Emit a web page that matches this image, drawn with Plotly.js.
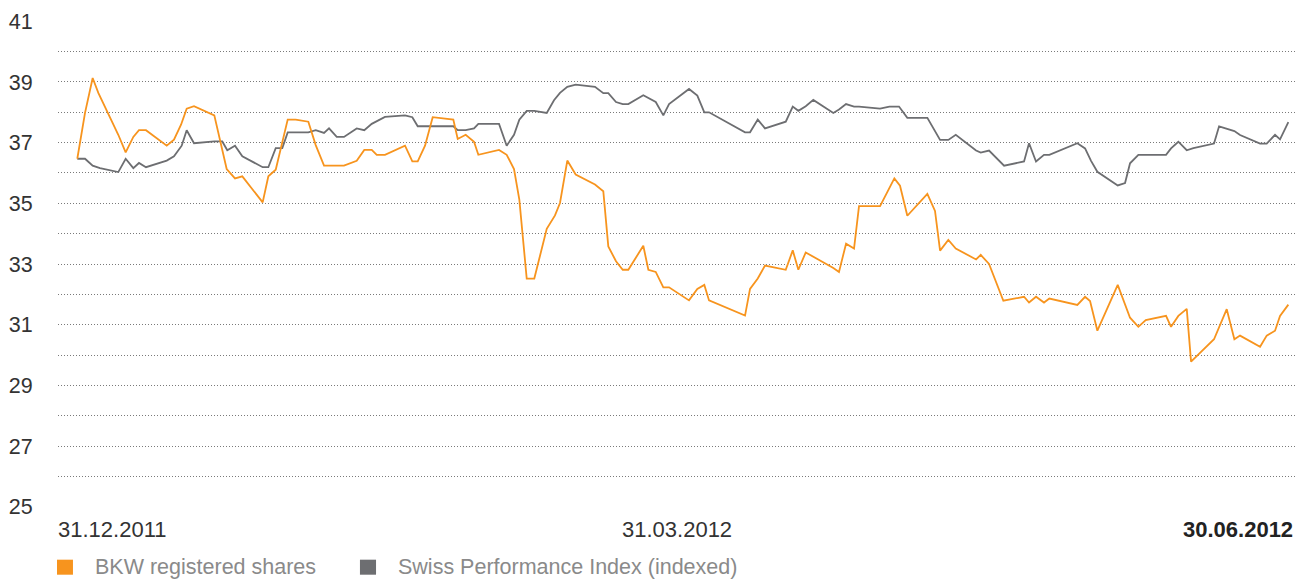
<!DOCTYPE html>
<html>
<head>
<meta charset="utf-8">
<script src="https://cdn.plot.ly/plotly-3.0.1.min.js"></script>
<style>html,body{margin:0;padding:0;background:#fff;}#chart{width:1297px;height:580px;}</style>
</head>
<body>
<div id="chart"></div>
<script>
// Days since 31.12.2011
const bkwDays = [0,1.16,2.31,3.16,6.16,7.27,8.42,9.27,10.32,13.44,14.53,15.59,16.44,17.54,20.59,22.45,23.70,24.80,27.86,28.71,29.82,31.62,32.82,34.72,35.83,37.08,40.08,41.99,43.13,44.25,45.00,46.24,49.25,50.35,51.16,52.26,53.41,56.51,57.17,58.37,59.62,60.27,63.38,64.53,65.63,66.43,67.54,68.68,70.55,71.79,72.54,73.64,74.90,77.80,79.05,79.80,80.96,81.97,82.81,85.06,85.82,86.93,88.07,88.93,91.93,93.18,94.23,94.94,100.35,101.10,102.26,103.35,106.47,107.52,108.36,109.47,113.62,114.47,115.53,116.73,117.48,120.64,122.79,123.64,124.74,127.75,128.90,129.66,130.90,132.02,135.07,135.77,137.02,139.17,142.28,143.03,144.08,145.28,146.08,150.29,151.45,152.20,153.30,156.36,158.21,159.46,160.57,163.62,164.37,165.47,166.73,167.38,170.83,172.74,173.89,174.74,177.75,178.75,180.00,180.75,182.0];
const bkwValues = [36.47,37.98,39.13,38.64,37.26,36.68,37.19,37.41,37.41,36.90,37.10,37.59,38.12,38.20,37.90,36.13,35.82,35.89,35.03,35.89,36.11,37.76,37.76,37.69,36.92,36.24,36.24,36.40,36.76,36.76,36.60,36.60,36.90,36.38,36.38,36.90,37.84,37.76,37.12,37.26,37.03,36.60,36.76,36.60,36.13,35.12,32.52,32.52,34.16,34.60,35.01,36.41,35.95,35.62,35.40,33.58,33.09,32.81,32.81,33.60,32.81,32.74,32.23,32.23,31.80,32.18,32.31,31.80,31.30,32.18,32.52,32.95,32.81,33.45,32.81,33.38,32.87,32.74,33.67,33.51,34.91,34.91,35.82,35.58,34.59,35.31,34.75,33.44,33.79,33.51,33.15,33.30,33.00,31.79,31.92,31.73,31.92,31.73,31.86,31.65,31.92,31.78,30.80,32.31,31.23,30.93,31.15,31.29,30.93,31.29,31.52,29.78,30.52,31.51,30.52,30.64,30.27,30.64,30.80,31.29,31.66];

const spiDays = [0,1.16,2.31,3.41,6.16,7.27,8.42,9.27,10.32,13.44,14.53,15.69,16.44,17.54,20.59,21.79,22.54,23.70,24.80,27.86,28.71,29.82,30.81,31.62,34.72,35.83,37.08,37.83,38.99,40.08,41.99,43.13,44.25,45.24,46.24,49.25,50.35,51.16,56.51,57.17,58.37,59.62,60.27,63.38,64.53,65.63,66.43,67.54,68.68,70.55,71.64,72.54,73.64,74.90,77.80,79.05,79.80,80.96,81.97,82.81,85.06,86.93,88.07,88.93,91.93,93.18,94.23,94.94,100.35,101.10,102.26,103.35,106.47,107.52,108.36,109.47,110.61,113.62,114.47,115.53,116.73,117.48,120.64,122.04,123.49,124.74,127.75,129.66,130.90,132.02,135.07,135.77,137.02,139.28,142.28,143.03,144.08,145.28,146.08,150.29,151.45,152.35,153.30,156.36,157.46,158.21,159.46,163.62,164.37,165.47,166.73,167.73,170.83,171.59,173.89,174.74,177.75,178.75,180.00,180.75,182.0];
const spiValues = [36.47,36.47,36.24,36.16,36.03,36.47,36.16,36.33,36.19,36.41,36.55,36.90,37.41,36.98,37.04,37.04,36.75,36.90,36.55,36.19,36.19,36.82,36.82,37.34,37.34,37.41,37.32,37.47,37.19,37.19,37.47,37.41,37.62,37.73,37.85,37.90,37.84,37.54,37.54,37.41,37.41,37.47,37.62,37.62,36.90,37.26,37.76,38.05,38.05,37.98,38.40,38.64,38.84,38.91,38.84,38.63,38.63,38.34,38.27,38.27,38.56,38.34,37.90,38.27,38.77,38.55,38.00,38.00,37.34,37.34,37.76,37.47,37.69,38.19,38.05,38.20,38.41,37.98,38.09,38.27,38.19,38.19,38.12,38.19,38.19,37.82,37.82,37.09,37.09,37.26,36.74,36.67,36.74,36.24,36.38,36.98,36.38,36.60,36.60,36.98,36.81,36.40,36.04,35.59,35.67,36.32,36.60,36.60,36.81,37.03,36.75,36.82,36.97,37.54,37.38,37.25,36.97,36.97,37.26,37.11,37.68];

const seriesNames = ["BKW registered shares", "Swiss Performance Index (indexed)"];
const seriesColors = ["#F7941E", "#6D6E71"];
const xLabels = ["31.12.2011", "31.03.2012", "30.06.2012"];

const FONT = "'Liberation Sans', Arial, Helvetica, sans-serif";

const traces = [
  {x: spiDays, y: spiValues, type: "scatter", mode: "lines", name: seriesNames[1],
   line: {color: seriesColors[1], width: 1.8}, showlegend: false, hoverinfo: "skip"},
  {x: bkwDays, y: bkwValues, type: "scatter", mode: "lines", name: seriesNames[0],
   line: {color: seriesColors[0], width: 1.8}, showlegend: false, hoverinfo: "skip"}
];

const annotations = [
  {text: xLabels[0], xref: "paper", yref: "paper", x: 0, y: 0, xanchor: "left", yanchor: "top", yshift: -8, xshift: -2, showarrow: false,
   font: {family: FONT, size: 22, color: "#333"}},
  {text: xLabels[1], xref: "paper", yref: "paper", x: 0.5, y: 0, xanchor: "center", yanchor: "top", yshift: -8, showarrow: false,
   font: {family: FONT, size: 22, color: "#333"}},
  {text: "<b>" + xLabels[2] + "</b>", xref: "paper", yref: "paper", x: 1, y: 0, xanchor: "right", yanchor: "top", yshift: -8, xshift: 0, showarrow: false,
   font: {family: FONT, size: 22, color: "#222"}},
  {text: seriesNames[0], xref: "paper", yref: "paper", x: 0.0283, y: -0.124, xanchor: "left", yanchor: "middle", showarrow: false,
   font: {family: FONT, size: 21.5, color: "#8a8a8a"}},
  {text: seriesNames[1], xref: "paper", yref: "paper", x: 0.2733, y: -0.124, xanchor: "left", yanchor: "middle", showarrow: false,
   font: {family: FONT, size: 21.5, color: "#8a8a8a"}}
];

const shapes = [
  {type: "rect", xref: "paper", yref: "paper", x0: -0.0008, x1: 0.0121, y0: -0.1393, y1: -0.1084,
   fillcolor: seriesColors[0], line: {width: 0}},
  {type: "rect", xref: "paper", yref: "paper", x0: 0.2441, x1: 0.2571, y0: -0.1393, y1: -0.1084,
   fillcolor: seriesColors[1], line: {width: 0}}
];

const layout = {
  width: 1297, height: 580,
  margin: {l: 58, r: 2, t: 21, b: 73, pad: 0},
  paper_bgcolor: "#fff", plot_bgcolor: "#fff",
  showlegend: false,
  xaxis: {range: [-2.9, 183.0], showgrid: false, zeroline: false, showline: false, showticklabels: false, ticks: ""},
  yaxis: {range: [24.99, 41.01], tick0: 25, dtick: 2, showgrid: true, griddash: "1px,2px", gridcolor: "#7a7a7a", gridwidth: 1,
          zeroline: false, showline: false, ticks: "outside", ticklen: 20, tickcolor: "rgba(0,0,0,0)",
          tickfont: {family: FONT, size: 21.5, color: "#333"},
          minor: {dtick: 1, tick0: 25, showgrid: true, griddash: "1px,2px", gridcolor: "#7a7a7a", gridwidth: 1, ticks: ""}},
  annotations: annotations,
  shapes: shapes
};

Plotly.newPlot("chart", traces, layout, {staticPlot: true, displayModeBar: false});
</script>
</body>
</html>
